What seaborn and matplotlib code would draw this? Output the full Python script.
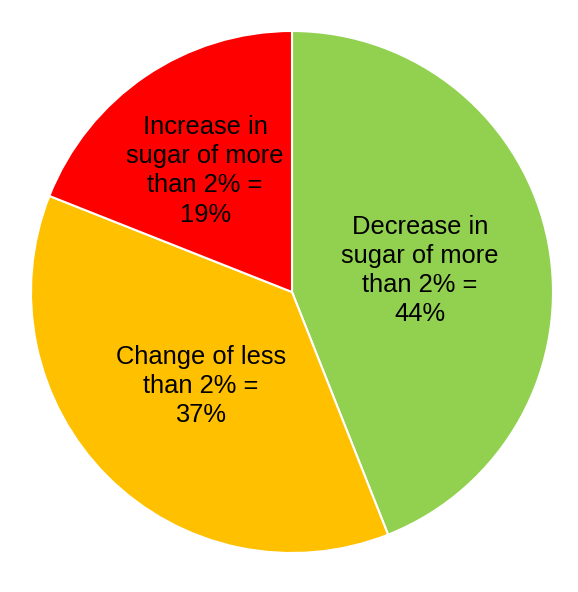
import matplotlib
matplotlib.use("Agg")
import matplotlib.pyplot as plt
import seaborn as sns

sns.set_theme(style="white")
plt.rcParams['font.family'] = ['Liberation Sans', 'DejaVu Sans']

# Data
labels = ['Decrease in\nsugar of more\nthan 2% =\n44%',
          'Change of less\nthan 2% =\n37%',
          'Increase in\nsugar of more\nthan 2% =\n19%']
shares = [44, 37, 19]
colors = ['#92D050', '#FFC000', '#FF0000']

fig = plt.figure(figsize=(5.78, 5.92), dpi=100)
ax = fig.add_axes([31 / 578, 39 / 592, 522 / 578, 522 / 592])

wedges, texts = ax.pie(shares, labels=labels, colors=colors, startangle=90,
                       counterclock=False, labeldistance=0.5, radius=1,
                       wedgeprops=dict(edgecolor='white', linewidth=1.5),
                       textprops=dict(fontsize=18.4, color='black',
                                      ha='center', va='center', linespacing=1.27))
# nudge labels toward where the original sits
texts[0].set_position((0.49, 0.082))
texts[1].set_position((-0.349, -0.36))
texts[2].set_position((-0.333, 0.464))
ax.set_xlim(-1, 1)
ax.set_ylim(-1, 1)
ax.set_aspect('equal')
ax.axis('off')

fig.savefig('out.png', dpi=100, facecolor='white')
